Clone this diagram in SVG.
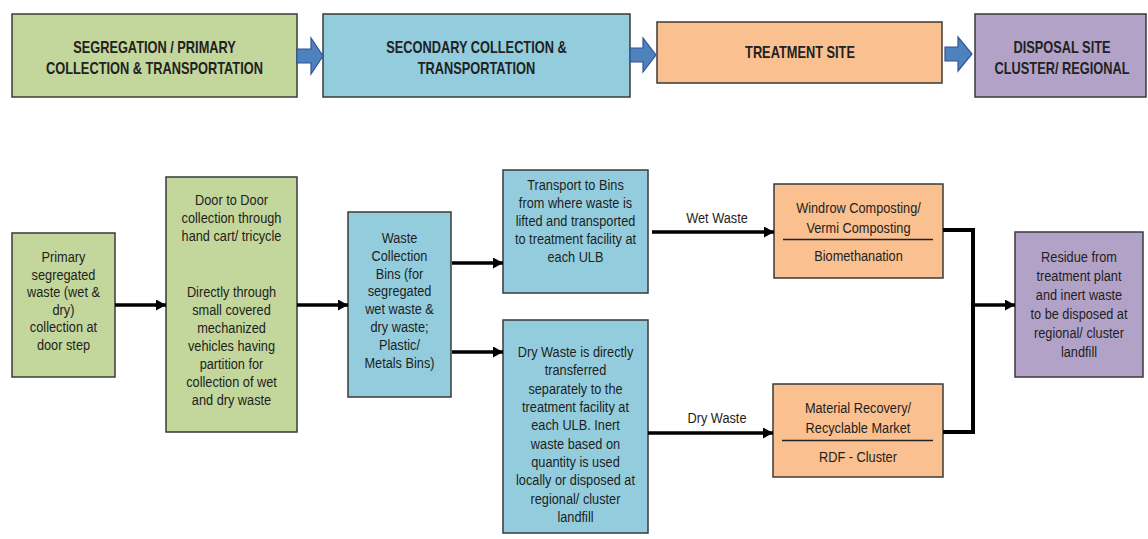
<svg xmlns="http://www.w3.org/2000/svg" width="1148" height="539" viewBox="0 0 1148 539">
<defs>
<style>
.box{stroke:#3a3a3a;stroke-width:1.5}
.g{fill:#c3d69b}.b{fill:#93cddd}.o{fill:#fac090}.p{fill:#b3a2c7}
.hd{font-family:"Liberation Sans",Arial,sans-serif;font-weight:bold;font-size:16px;fill:#222;text-anchor:middle}
.tx{font-family:"Liberation Sans",Arial,sans-serif;font-size:15px;fill:#1e1e1e;text-anchor:middle}
.blk{fill:#4f81bd;stroke:#2f5597;stroke-width:1.2}
.ln{fill:none;stroke:#000;stroke-width:3.5}
.sep{stroke:#222;stroke-width:1.5}
</style>
<marker id="ah" markerUnits="userSpaceOnUse" markerWidth="11" markerHeight="11" refX="10" refY="5.5" orient="auto">
<path d="M0,0 L10,5.5 L0,11 z" fill="#000"/>
</marker>
</defs>
<rect width="1148" height="539" fill="#fff"/>

<g id="top-segregation">
<rect class="box g" x="12" y="14" width="285" height="83"/>
<text class="hd" transform="translate(154.5 0) scale(0.8 1) translate(-154.5 0)"><tspan x="154.5" y="53">SEGREGATION / PRIMARY</tspan><tspan x="154.5" y="74">COLLECTION &amp; TRANSPORTATION</tspan></text>
</g>
<g id="top-secondary">
<rect class="box b" x="323" y="14" width="307" height="83"/>
<text class="hd" transform="translate(476.5 0) scale(0.8 1) translate(-476.5 0)"><tspan x="476.5" y="53">SECONDARY COLLECTION &amp;</tspan><tspan x="476.5" y="74">TRANSPORTATION</tspan></text>
</g>
<g id="top-treatment">
<rect class="box o" x="657" y="22" width="285" height="61"/>
<text class="hd" transform="translate(800 0) scale(0.8 1) translate(-800 0)"><tspan x="800" y="58">TREATMENT SITE</tspan></text>
</g>
<g id="top-disposal">
<rect class="box p" x="975" y="14" width="171" height="83"/>
<text class="hd" transform="translate(1062 0) scale(0.8 1) translate(-1062 0)"><tspan x="1062" y="53">DISPOSAL SITE</tspan><tspan x="1062" y="74">CLUSTER/ REGIONAL</tspan></text>
</g>

<g id="primary">
<rect class="box g" x="12" y="233" width="103" height="144"/>
<text class="tx" transform="translate(63.5 0) scale(0.85 1) translate(-63.5 0)"><tspan x="63.5" y="262">Primary</tspan><tspan x="63.5" y="279.6">segregated</tspan><tspan x="63.5" y="297.2">waste (wet &amp;</tspan><tspan x="63.5" y="314.8">dry)</tspan><tspan x="63.5" y="332.4">collection at</tspan><tspan x="63.5" y="350">door step</tspan></text>
</g>
<g id="door-to-door">
<rect class="box g" x="166" y="177" width="131" height="255"/>
<text class="tx" transform="translate(231.5 0) scale(0.85 1) translate(-231.5 0)"><tspan x="231.5" y="205">Door to Door</tspan><tspan x="231.5" y="223">collection through</tspan><tspan x="231.5" y="241">hand cart/ tricycle</tspan><tspan x="231.5" y="297">Directly through</tspan><tspan x="231.5" y="315">small covered</tspan><tspan x="231.5" y="333">mechanized</tspan><tspan x="231.5" y="351">vehicles having</tspan><tspan x="231.5" y="369">partition for</tspan><tspan x="231.5" y="387">collection of wet</tspan><tspan x="231.5" y="405">and dry waste</tspan></text>
</g>
<g id="bins">
<rect class="box b" x="348" y="212" width="103" height="185"/>
<text class="tx" transform="translate(399.5 0) scale(0.85 1) translate(-399.5 0)"><tspan x="399.5" y="243">Waste</tspan><tspan x="399.5" y="260.8">Collection</tspan><tspan x="399.5" y="278.6">Bins (for</tspan><tspan x="399.5" y="296.4">segregated</tspan><tspan x="399.5" y="314.2">wet waste &amp;</tspan><tspan x="399.5" y="332">dry waste;</tspan><tspan x="399.5" y="349.8">Plastic/</tspan><tspan x="399.5" y="367.6">Metals Bins)</tspan></text>
</g>
<g id="transport">
<rect class="box b" x="503" y="170" width="145" height="123"/>
<text class="tx" transform="translate(575.5 0) scale(0.85 1) translate(-575.5 0)"><tspan x="575.5" y="190">Transport to Bins</tspan><tspan x="575.5" y="208">from where waste is</tspan><tspan x="575.5" y="226">lifted and transported</tspan><tspan x="575.5" y="244">to treatment facility at</tspan><tspan x="575.5" y="262">each ULB</tspan></text>
</g>
<g id="dry-transfer">
<rect class="box b" x="503" y="320" width="145" height="213"/>
<text class="tx" transform="translate(575.5 0) scale(0.85 1) translate(-575.5 0)"><tspan x="575.5" y="357">Dry Waste is directly</tspan><tspan x="575.5" y="375.3">transferred</tspan><tspan x="575.5" y="393.7">separately to the</tspan><tspan x="575.5" y="412">treatment facility at</tspan><tspan x="575.5" y="430.3">each ULB. Inert</tspan><tspan x="575.5" y="448.7">waste based on</tspan><tspan x="575.5" y="467">quantity is used</tspan><tspan x="575.5" y="485.3">locally or disposed at</tspan><tspan x="575.5" y="503.7">regional/ cluster</tspan><tspan x="575.5" y="522">landfill</tspan></text>
</g>
<g id="composting">
<rect class="box o" x="774" y="184" width="169" height="94"/>
<text class="tx" transform="translate(858.5 0) scale(0.85 1) translate(-858.5 0)"><tspan x="858.5" y="213">Windrow Composting/</tspan><tspan x="858.5" y="233">Vermi Composting</tspan><tspan x="858.5" y="261">Biomethanation</tspan></text>
<line class="sep" x1="783" y1="239.5" x2="933" y2="239.5"/>
</g>
<g id="material-recovery">
<rect class="box o" x="773" y="384" width="170" height="93"/>
<text class="tx" transform="translate(858 0) scale(0.85 1) translate(-858 0)"><tspan x="858" y="413">Material Recovery/</tspan><tspan x="858" y="433">Recyclable Market</tspan><tspan x="858" y="462">RDF - Cluster</tspan></text>
<line class="sep" x1="782" y1="440.5" x2="933" y2="440.5"/>
</g>
<g id="residue">
<rect class="box p" x="1015" y="232" width="128" height="145"/>
<text class="tx" transform="translate(1079 0) scale(0.85 1) translate(-1079 0)"><tspan x="1079" y="262">Residue from</tspan><tspan x="1079" y="281">treatment plant</tspan><tspan x="1079" y="300">and inert waste</tspan><tspan x="1079" y="319">to be disposed at</tspan><tspan x="1079" y="338">regional/ cluster</tspan><tspan x="1079" y="357">landfill</tspan></text>
</g>

<g id="connectors">
<polygon class="blk" points="297,49 311,49 311,38 323,56 311,74 311,63 297,63"/>
<polygon class="blk" points="630,48 643,48 643,38 656,55 643,72 643,62 630,62"/>
<polygon class="blk" points="945,47 958,47 958,37 972,54 958,71 958,61 945,61"/>
<line class="ln" x1="115" y1="305" x2="166" y2="305" marker-end="url(#ah)"/>
<line class="ln" x1="297" y1="305" x2="348" y2="305" marker-end="url(#ah)"/>
<line class="ln" x1="452" y1="263" x2="503" y2="263" marker-end="url(#ah)"/>
<line class="ln" x1="452" y1="352" x2="503" y2="352" marker-end="url(#ah)"/>
<line class="ln" x1="652" y1="232" x2="774" y2="232" marker-end="url(#ah)"/>
<line class="ln" x1="648" y1="433" x2="773" y2="433" marker-end="url(#ah)"/>
<polyline class="ln" style="stroke-width:4" points="943,230 973,230 973,432 943,432"/>
<line class="ln" x1="973" y1="305" x2="1015" y2="305" marker-end="url(#ah)"/>
<text class="tx" transform="translate(717 0) scale(0.85 1) translate(-717 0)" x="717" y="223">Wet Waste</text>
<text class="tx" transform="translate(717 0) scale(0.85 1) translate(-717 0)" x="717" y="423">Dry Waste</text>
</g>
</svg>
